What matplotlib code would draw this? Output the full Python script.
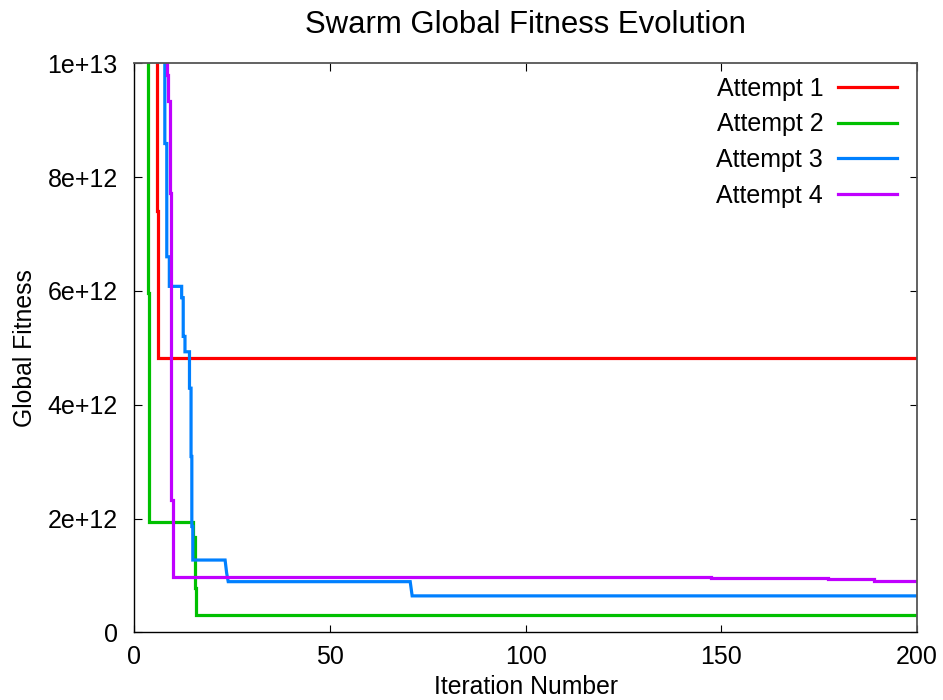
import matplotlib
matplotlib.use("Agg")
import matplotlib.pyplot as plt

plt.rcParams['font.family'] = ['Liberation Sans', 'DejaVu Sans']

# Data (iteration, global fitness in units of 1e12); first point is above the visible range
labels = ["Attempt 1", "Attempt 2", "Attempt 3", "Attempt 4"]
colors = ["#ff0000", "#00c000", "#0080ff", "#c000ff"]

att1_x = [5.7, 5.7, 6.1, 6.1, 200]
att1_y = [15.0, 7.41, 7.41, 4.82, 4.82]

att2_x = [3.6, 3.6, 3.85, 3.85, 15.1, 15.1, 15.4, 15.4, 15.5, 15.5, 15.8, 15.8, 200]
att2_y = [15.0, 5.97, 5.97, 1.93, 1.93, 1.68, 1.68, 1.15, 1.15, 0.78, 0.78, 0.31, 0.31]

att3_x = [7.8, 7.8, 8.3, 8.3, 8.95, 8.95, 12.1, 12.1, 12.5, 12.5, 12.95, 12.95, 14.1, 14.1,
          14.5, 14.5, 14.7, 14.7, 14.95, 14.95, 23.2, 23.6, 24.0, 70.5, 71.0, 200]
att3_y = [15.0, 8.59, 8.59, 6.6, 6.6, 6.08, 6.08, 5.88, 5.88, 5.2, 5.2, 4.93, 4.93, 4.29,
          4.29, 3.09, 3.09, 1.86, 1.86, 1.27, 1.27, 1.04, 0.89, 0.89, 0.64, 0.64]

att4_x = [8.3, 8.3, 8.7, 8.7, 9.1, 9.1, 9.4, 9.4, 9.8, 9.8, 147.4, 147.4, 177.3, 177.3, 189, 189, 200]
att4_y = [15.0, 9.8, 9.8, 9.33, 9.33, 7.72, 7.72, 2.33, 2.33, 0.97, 0.97, 0.95, 0.95, 0.93, 0.93, 0.91, 0.91]

xs = [att1_x, att2_x, att3_x, att4_x]
ys = [att1_y, att2_y, att3_y, att4_y]

xticks = [0, 50, 100, 150, 200]
yticks = [0, 2e12, 4e12, 6e12, 8e12, 1e13]
ytick_labels = ["0", "2e+12", "4e+12", "6e+12", "8e+12", "1e+13"]

W, H = 943, 700
fig = plt.figure(figsize=(W / 100, H / 100), dpi=100)
left, right, top, bottom = 134.3, 917.0, 63.3, 632.3
ax = fig.add_axes([left / W, 1 - bottom / H, (right - left) / W, (bottom - top) / H])

for x, y, c, lab in zip(xs, ys, colors, labels):
    ax.plot(x, [v * 1e12 for v in y], color=c, lw=2.3, label=lab, solid_joinstyle='miter')

ax.set_xlim(0, 200)
ax.set_ylim(0, 1e13)
ax.set_xticks(xticks)
ax.set_xticklabels([str(t) for t in xticks])
ax.set_yticks(yticks)
ax.set_yticklabels(ytick_labels)
ax.tick_params(direction='in', length=5.4, width=0.8, labelsize=18,
               top=True, right=True, colors='#000000')
ax.tick_params(axis='x', pad=9)
ax.tick_params(axis='y', pad=12)

for s in ['left', 'bottom']:
    ax.spines[s].set_color('#000000')
    ax.spines[s].set_linewidth(1.0)
for s in ['top', 'right']:
    ax.spines[s].set_color('#555555')
    ax.spines[s].set_linewidth(1.3)

ax.set_title("Swarm Global Fitness Evolution", fontsize=22.4, pad=22)
ax.set_xlabel("Iteration Number", fontsize=17.8, labelpad=4.5)
ax.set_ylabel("Global Fitness", fontsize=17.8, labelpad=7.5)

leg = ax.legend(loc='upper right', bbox_to_anchor=(897 / W, 1 - 77 / H),
                bbox_transform=fig.transFigure, frameon=False, markerfirst=False,
                fontsize=18, handlelength=2.35, handletextpad=0.6,
                labelspacing=0.46, borderpad=0, borderaxespad=0)

fig.savefig("out.png", dpi=100)
